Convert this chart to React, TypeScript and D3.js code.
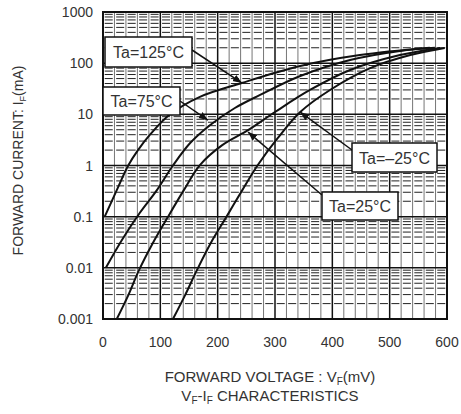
import React, { useEffect, useRef } from 'react';
import * as d3 from 'd3';

// VF-IF curves (mV, mA)
const voltsA = [3, 24, 44, 61, 82, 117, 169, 242, 344, 448, 570];
const currA = [0.1, 0.33, 1, 2, 4, 10, 22, 41, 88, 144, 200];
const voltsB = [5, 33, 64, 94, 122, 152, 187, 230, 274, 344, 431, 518, 579];
const currB = [0.01, 0.035, 0.118, 0.33, 1.0, 2.75, 6.2, 13.3, 23.9, 56, 115, 173, 200];
const voltsC = [24, 44, 63, 87, 113, 141, 169, 208, 253, 300, 361, 431, 518, 588];
const currC = [0.001, 0.0029, 0.0091, 0.0306, 0.098, 0.33, 1.02, 2.5, 4.9, 11.1, 29.9, 73.5, 144, 198];
const voltsD = [122, 143, 164, 188, 215, 243, 270, 305, 344, 396, 466, 536, 596];
const currD = [0.001, 0.0029, 0.0091, 0.0306, 0.098, 0.33, 1.02, 3.45, 11.1, 29.9, 80, 144, 198];

const xTicks = [0, 100, 200, 300, 400, 500, 600];
const yTicks = [0.001, 0.01, 0.1, 1, 10, 100, 1000];
const yTickLabels = ['0.001', '0.01', '0.1', '1', '10', '100', '1000'];

// labels: text, arrow tip on the curve (mV, mA)
const labelTexts = ['Ta=125°C', 'Ta=75°C', 'Ta=\u201325°C', 'Ta=25°C'];
const tipVolts = [242, 183, 344, 253];
const tipCurr = [41, 7.7, 11, 4.5];

const W = 461;
const H = 414;
const FONT = 'Liberation Sans, Arial, sans-serif';

const App: React.FC = () => {
  const svgRef = useRef<SVGSVGElement>(null);

  useEffect(() => {
    if (!svgRef.current) return;
    const svg = d3.select(svgRef.current);
    svg.selectAll('*').remove();

    const left = 103, right = 447, top = 12, bottom = 319;
    const x = d3.scaleLinear().domain([0, 600]).range([left, right]);
    const y = d3.scaleLog().domain([0.001, 1000]).range([bottom, top]);

    svg.append('rect').attr('width', W).attr('height', H).attr('fill', '#fff');

    const defs = svg.append('defs');
    defs.append('marker')
      .attr('id', 'arr')
      .attr('viewBox', '0 0 10 10')
      .attr('refX', 10).attr('refY', 5)
      .attr('markerWidth', 6).attr('markerHeight', 6)
      .attr('markerUnits', 'strokeWidth')
      .attr('orient', 'auto')
      .append('path').attr('d', 'M0,1 L10,5 L0,9 Z').attr('fill', '#111');

    const grid = svg.append('g');
    const step = x(20) - x(0);

    // minor vertical lines every 20 mV
    const minorX = d3.range(20, 600, 20).filter(v => v % 100 !== 0);
    grid.selectAll('line.mv').data(minorX).enter().append('line')
      .attr('y1', top).attr('y2', bottom)
      .attr('x1', d => x(d)).attr('x2', d => x(d))
      .attr('stroke', '#666').attr('stroke-width', 0.9);

    // minor horizontal lines (2..9 per decade), broken like the scan
    const minorY: number[] = [];
    for (let e = -3; e < 3; e++) {
      for (let m = 2; m <= 9; m++) minorY.push(m * Math.pow(10, e));
    }
    grid.selectAll('line.mh').data(minorY).enter().append('line')
      .attr('x1', left).attr('x2', right)
      .attr('y1', d => y(d)).attr('y2', d => y(d))
      .attr('stroke', '#222').attr('stroke-width', 1)
      .attr('stroke-dasharray', `${step * 0.7} ${step * 0.3}`)
      .attr('stroke-dashoffset', -step * 0.15);

    // major lines
    grid.selectAll('line.Mh').data(yTicks).enter().append('line')
      .attr('x1', left).attr('x2', right)
      .attr('y1', d => y(d)).attr('y2', d => y(d))
      .attr('stroke', '#111').attr('stroke-width', 1.5);
    grid.selectAll('line.Mv').data(xTicks).enter().append('line')
      .attr('y1', top).attr('y2', bottom)
      .attr('x1', d => x(d)).attr('x2', d => x(d))
      .attr('stroke', '#111').attr('stroke-width', 1.5);

    svg.append('rect')
      .attr('x', left).attr('y', top)
      .attr('width', right - left).attr('height', bottom - top)
      .attr('fill', 'none').attr('stroke', '#111').attr('stroke-width', 2);

    // curves
    const series = [
      d3.zip(voltsA, currA),
      d3.zip(voltsB, currB),
      d3.zip(voltsC, currC),
      d3.zip(voltsD, currD),
    ];
    const line = d3.line<number[]>()
      .x(d => x(d[0]))
      .y(d => y(d[1]))
      .curve(d3.curveCatmullRom.alpha(0.5));
    svg.append('g').selectAll('path').data(series).enter().append('path')
      .attr('d', d => line(d))
      .attr('fill', 'none').attr('stroke', '#111').attr('stroke-width', 2);

    // annotation boxes
    const boxes = [
      { x: 105, y: 37, w: 87, h: 30, tx: 192, ty: 50 },
      { x: 103, y: 87, w: 77, h: 28, tx: 180, ty: 101 },
      { x: 352, y: 143, w: 85, h: 29, tx: 352, ty: 150 },
      { x: 322, y: 192, w: 76, h: 28, tx: 322, ty: 195 },
    ];
    boxes.forEach((b, i) => {
      svg.append('line')
        .attr('x1', b.tx).attr('y1', b.ty)
        .attr('x2', x(tipVolts[i])).attr('y2', y(tipCurr[i]))
        .attr('stroke', '#111').attr('stroke-width', 1.5)
        .attr('marker-end', 'url(#arr)');
      svg.append('rect')
        .attr('x', b.x).attr('y', b.y).attr('width', b.w).attr('height', b.h)
        .attr('fill', '#fff').attr('stroke', '#111').attr('stroke-width', 1.5);
      svg.append('text')
        .attr('x', b.x + b.w / 2).attr('y', b.y + b.h / 2 + 6)
        .attr('text-anchor', 'middle')
        .attr('font-family', FONT).attr('font-size', 16).attr('fill', '#333')
        .text(labelTexts[i]);
    });

    // tick labels
    svg.append('g').selectAll('text').data(xTicks).enter().append('text')
      .attr('x', d => x(d)).attr('y', 347)
      .attr('text-anchor', 'middle')
      .attr('font-family', FONT).attr('font-size', 14).attr('fill', '#333')
      .text(d => String(d));
    svg.append('g').selectAll('text').data(yTicks).enter().append('text')
      .attr('x', 93).attr('y', d => y(d) + 5)
      .attr('text-anchor', 'end')
      .attr('font-family', FONT).attr('font-size', 14).attr('fill', '#333')
      .text((d, i) => yTickLabels[i]);

    // axis titles
    const xt = svg.append('text')
      .attr('x', 270).attr('y', 382)
      .attr('text-anchor', 'middle')
      .attr('font-family', FONT).attr('font-size', 15).attr('fill', '#333');
    xt.append('tspan').text('FORWARD VOLTAGE : V');
    xt.append('tspan').attr('font-size', 10).attr('dy', 3).text('F');
    xt.append('tspan').attr('dy', -3).text('(mV)');

    const xt2 = svg.append('text')
      .attr('x', 270).attr('y', 401)
      .attr('text-anchor', 'middle')
      .attr('font-family', FONT).attr('font-size', 15).attr('fill', '#333');
    xt2.append('tspan').text('V');
    xt2.append('tspan').attr('font-size', 10).attr('dy', 3).text('F');
    xt2.append('tspan').attr('dy', -3).text('-I');
    xt2.append('tspan').attr('font-size', 10).attr('dy', 3).text('F');
    xt2.append('tspan').attr('dy', -3).text(' CHARACTERISTICS');

    const yt = svg.append('text')
      .attr('transform', `translate(23,${(top + bottom) / 2 - 5}) rotate(-90)`)
      .attr('text-anchor', 'middle')
      .attr('font-family', FONT).attr('font-size', 14).attr('fill', '#333');
    yt.append('tspan').text('FORWARD CURRENT: I');
    yt.append('tspan').attr('font-size', 9).attr('dy', 3).text('F');
    yt.append('tspan').attr('dy', -3).text('(mA)');
  }, []);

  return (
    <svg
      ref={svgRef}
      width={W}
      height={H}
      style={{ position: 'absolute', left: 0, top: 0 }}
    />
  );
};

export default App;
